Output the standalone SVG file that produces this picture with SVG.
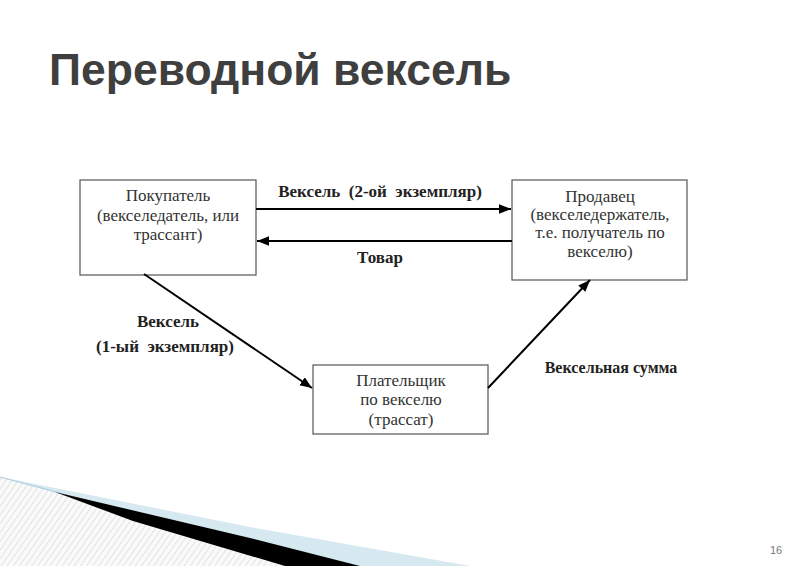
<svg xmlns="http://www.w3.org/2000/svg" width="800" height="566" viewBox="0 0 800 566">
<style>
.title{font-family:"Liberation Sans",Arial,sans-serif;font-weight:bold;font-size:44.5px;fill:#3f3f3f}
.box{fill:#fff;stroke:#555;stroke-width:1.2}
.bt{font-family:"Liberation Serif","Times New Roman",serif;font-size:17px;fill:#333;text-anchor:middle}
.lb{font-family:"Liberation Serif","Times New Roman",serif;font-size:17px;font-weight:bold;fill:#222;text-anchor:middle;white-space:pre}
.conn{stroke:#000;stroke-width:2;fill:none;marker-end:url(#ah)}
.pg{font-family:"Liberation Sans",Arial,sans-serif;font-size:11px;fill:#777}
</style>
<defs>
<marker id="ah" viewBox="0 0 10 10" refX="10" refY="5" markerWidth="6" markerHeight="6" markerUnits="strokeWidth" orient="auto">
<path d="M0,1 L10,5 L0,9 Z" fill="#000"/>
</marker>
<pattern id="hatch" width="5" height="5" patternUnits="userSpaceOnUse" patternTransform="rotate(35)">
<rect width="5" height="5" fill="#fafafa"/>
<line x1="0" y1="0" x2="0" y2="5" stroke="#dcdcdc" stroke-width="1.5"/>
</pattern>
</defs>
<rect width="800" height="566" fill="#fff"/>
<g id="decor">
<path d="M0,477 L60,493 L290,566 L0,566 Z" fill="url(#hatch)"/>
<path d="M0,477 L250,527 L470,566 L360,566 L60,494 Z" fill="#d6e8f0"/>
<path d="M0,477 L60,493" stroke="#a9cbdc" stroke-width="1"/>
<path d="M55,492 L250,538 L360,566 L285,566 L133,521 Z" fill="#000"/>
</g>
<text class="title" x="49" y="85">Переводной вексель</text>
<g id="buyer">
<rect class="box" x="80" y="180" width="176" height="95"/>
<text class="bt" x="168" y="201">Покупатель</text>
<text class="bt" x="168" y="221">(векселедатель, или</text>
<text class="bt" x="168" y="240">трассант)</text>
</g>
<g id="seller">
<rect class="box" x="512" y="180" width="175" height="100"/>
<text class="bt" x="600" y="202">Продавец</text>
<text class="bt" x="600" y="220">(векселедержатель,</text>
<text class="bt" x="600" y="238">т.е. получатель по</text>
<text class="bt" x="600" y="257">векселю)</text>
</g>
<g id="payer">
<rect class="box" x="313" y="365" width="175" height="69"/>
<text class="bt" x="401" y="386">Плательщик</text>
<text class="bt" x="401" y="405">по векселю</text>
<text class="bt" x="401" y="425">(трассат)</text>
</g>
<g id="connectors">
<line class="conn" x1="256" y1="209" x2="511" y2="209"/>
<line class="conn" x1="512" y1="241" x2="257" y2="241"/>
<line class="conn" x1="144" y1="274" x2="312" y2="388"/>
<line class="conn" x1="488" y1="388" x2="590" y2="280"/>
</g>
<g id="labels">
<text class="lb" x="380" y="197">Вексель  (2-ой  экземпляр)</text>
<text class="lb" x="380" y="263">Товар</text>
<text class="lb" x="168" y="327">Вексель</text>
<text class="lb" x="165" y="352">(1-ый  экземпляр)</text>
<text class="lb" x="611" y="373" style="font-size:16px">Вексельная сумма</text>
</g>
<text class="pg" x="770" y="554">16</text>
</svg>
